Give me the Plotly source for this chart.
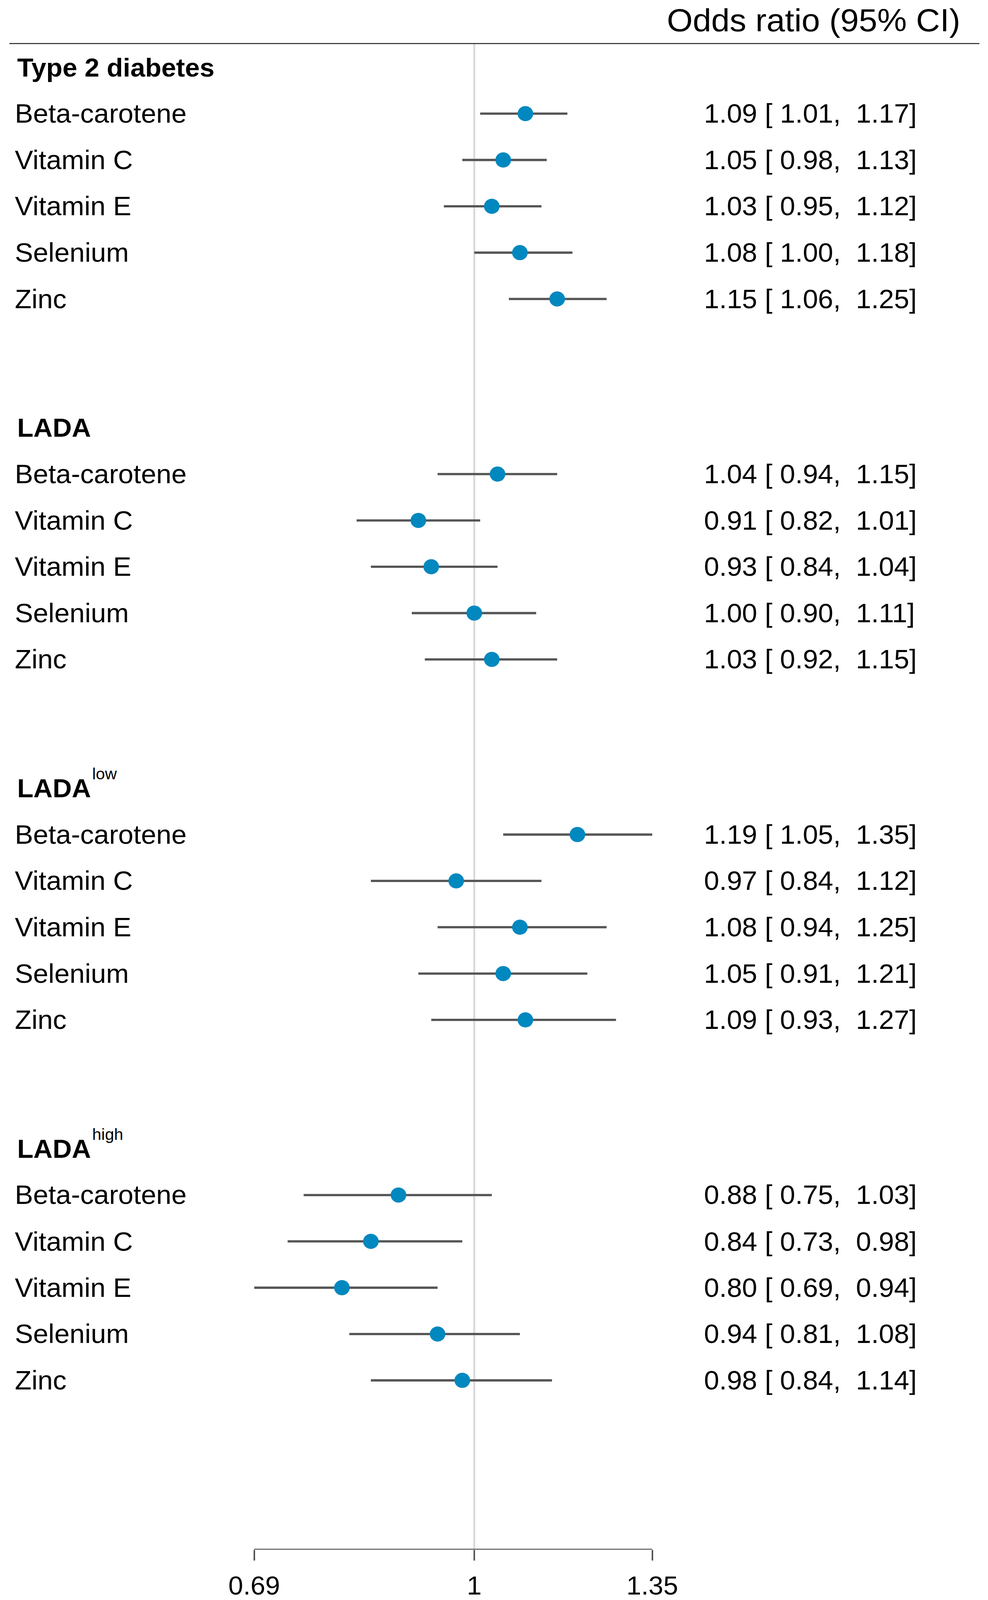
import math
import plotly.graph_objects as go

# ---------------- data ----------------
group_names = ["Type 2 diabetes", "LADA", "LADA", "LADA"]
group_sups = ["", "", "low", "high"]
nutrients = ["Beta-carotene", "Vitamin C", "Vitamin E", "Selenium", "Zinc"]

t2d_or = [1.09, 1.05, 1.03, 1.08, 1.15]
t2d_lo = [1.01, 0.98, 0.95, 1.00, 1.06]
t2d_hi = [1.17, 1.13, 1.12, 1.18, 1.25]

lada_or = [1.04, 0.91, 0.93, 1.00, 1.03]
lada_lo = [0.94, 0.82, 0.84, 0.90, 0.92]
lada_hi = [1.15, 1.01, 1.04, 1.11, 1.15]

ladalow_or = [1.19, 0.97, 1.08, 1.05, 1.09]
ladalow_lo = [1.05, 0.84, 0.94, 0.91, 0.93]
ladalow_hi = [1.35, 1.12, 1.25, 1.21, 1.27]

ladahigh_or = [0.88, 0.84, 0.80, 0.94, 0.98]
ladahigh_lo = [0.75, 0.73, 0.69, 0.81, 0.84]
ladahigh_hi = [1.03, 0.98, 0.94, 1.08, 1.14]

tick_vals = [0.69, 1.0, 1.35]
tick_text = ["0.69", "1", "1.35"]

groups_or = [t2d_or, lada_or, ladalow_or, ladahigh_or]
groups_lo = [t2d_lo, lada_lo, ladalow_lo, ladahigh_lo]
groups_hi = [t2d_hi, lada_hi, ladalow_hi, ladahigh_hi]

# ---------------- layout constants (page pixels) ----------------
W, H = 2529, 4227
ROW_PX = 122.55
HEAD0_PX = 178.0
TOP_PX = 114.0
AXIS_PX = 4099.0
GROUP_STEP = 7.78
REF_PX = 1214.0
LN_PX = 1518.0
FONT = "Liberation Sans, Arial, sans-serif"
NB = "\u00a0"


def px(xpage):
    return xpage / W


def py(ypage):
    return 1 - ypage / H


y_top = -(HEAD0_PX - TOP_PX) / ROW_PX
y_bot = (AXIS_PX - HEAD0_PX) / ROW_PX

x_lo_ln = -REF_PX / LN_PX
x_hi_ln = (W - REF_PX) / LN_PX
x_range = [x_lo_ln / math.log(10), x_hi_ln / math.log(10)]

fig = go.Figure()
annotations = []

line_x, line_y = [], []
pt_x, pt_y = [], []

for g, (name, sup) in enumerate(zip(group_names, group_sups)):
    hrow = g * GROUP_STEP
    annotations.append(dict(
        x=px(42), xref="paper", y=hrow, yref="y", xanchor="left", yanchor="middle",
        text="<b>" + name + "</b>", showarrow=False,
        font=dict(family=FONT, size=68, color="black")))
    if sup:
        annotations.append(dict(
            x=px(234), xref="paper", y=hrow, yref="y", xanchor="left", yanchor="middle",
            yshift=38, text=sup, showarrow=False,
            font=dict(family=FONT, size=42, color="black")))
    for i, nut in enumerate(nutrients):
        row = hrow + i + 1
        est = groups_or[g][i]
        lo = groups_lo[g][i]
        hi = groups_hi[g][i]
        line_x += [lo, hi, None]
        line_y += [row, row, None]
        pt_x.append(est)
        pt_y.append(row)
        annotations.append(dict(
            x=px(36), xref="paper", y=row, yref="y", xanchor="left", yanchor="middle",
            text=nut, showarrow=False,
            font=dict(family=FONT, size=70, color="black")))
        label = f"{est:.2f}{NB}[{NB}{lo:.2f},{NB}{NB}{hi:.2f}]"
        annotations.append(dict(
            x=px(1800), xref="paper", y=row, yref="y", xanchor="left", yanchor="middle",
            text=label, showarrow=False,
            font=dict(family=FONT, size=70, color="black")))

# header
annotations.append(dict(
    x=px(2460), xref="paper", y=py(54), yref="paper", xanchor="right", yanchor="middle",
    text="Odds ratio (95% CI)", showarrow=False,
    font=dict(family=FONT, size=85, color="black")))

fig.add_trace(go.Scatter(
    x=line_x, y=line_y, mode="lines",
    line=dict(color="#555555", width=6), hoverinfo="skip", showlegend=False))
fig.add_trace(go.Scatter(
    x=pt_x, y=pt_y, mode="markers",
    marker=dict(color="#0088BF", size=40, line=dict(width=0)),
    showlegend=False))

shapes = [
    # reference line at OR = 1
    dict(type="line", xref="x", yref="y", x0=1, x1=1, y0=y_top, y1=y_bot,
         line=dict(color="#d9d9d9", width=5), layer="below"),
    # top rule
    dict(type="line", xref="paper", yref="y", x0=px(24), x1=px(2507), y0=y_top, y1=y_top,
         line=dict(color="#222222", width=5)),
    # bottom axis line
    dict(type="line", xref="x", yref="y", x0=tick_vals[0], x1=tick_vals[-1], y0=y_bot, y1=y_bot,
         line=dict(color="#555555", width=5)),
]

fig.update_layout(
    width=W, height=H,
    margin=dict(l=0, r=0, t=0, b=0),
    paper_bgcolor="white", plot_bgcolor="white",
    showlegend=False,
    annotations=annotations,
    shapes=shapes,
    xaxis=dict(
        type="log", range=x_range, domain=[0, 1],
        showgrid=False, zeroline=False, showline=False,
        tickvals=tick_vals, ticktext=tick_text,
        ticks="outside", ticklen=28, tickwidth=4, tickcolor="#555555",
        ticklabelstandoff=8,
        tickfont=dict(family=FONT, size=68, color="black"),
        fixedrange=True,
    ),
    yaxis=dict(
        range=[y_bot, y_top],
        domain=[1 - AXIS_PX / H, 1 - TOP_PX / H],
        visible=False, fixedrange=True,
    ),
)

# fit the fixed-size figure exactly into the browser viewport
fit_script = """
var gd = document.getElementById('{plot_id}');
document.documentElement.style.overflow = 'hidden';
document.body.style.overflow = 'hidden';
document.body.style.margin = '0';
var sx = window.innerWidth / %d, sy = window.innerHeight / %d;
gd.style.transformOrigin = '0 0';
gd.style.transform = 'scale(' + sx + ',' + sy + ')';
""" % (W, H)

fig.write_html("out.html", post_script=fit_script,
               config={"displayModeBar": False, "staticPlot": True})
